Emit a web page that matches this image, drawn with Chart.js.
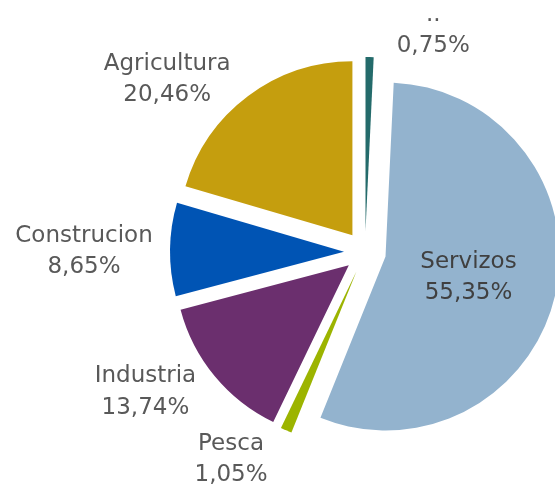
<!DOCTYPE html>
<html>
<head>
<meta charset="utf-8">
<script src="https://cdn.jsdelivr.net/npm/chart.js@4.4.1/dist/chart.umd.min.js"></script>
<style>
  html, body { margin: 0; padding: 0; background: #ffffff; overflow: hidden; }
  #wrap { width: 555px; height: 485px; }
</style>
</head>
<body>
<div id="wrap"><canvas id="c" width="555" height="485"></canvas></div>
<script>
// ---- data ----
const categories = ['..', 'Servizos', 'Pesca', 'Industria', 'Construcion', 'Agricultura'];
const shares = [0.75, 55.35, 1.05, 13.74, 8.65, 20.46];
const valueLabels = ['0,75%', '55,35%', '1,05%', '13,74%', '8,65%', '20,46%'];
const sliceColors = ['#246b6b', '#93b3ce', '#9cb400', '#6b2f6e', '#0054b4', '#c59e0e'];

// label placement: angle shift from slice mid (deg) and distance from pie centre (px)
const labelAngleShift = [15.6, 0.2, 9.3, 7.5, -0.2, -11.7];
const labelDistance = [234, 106, 245, 259, 281, 264];
const labelColors = ['#595959', '#404040', '#595959', '#595959', '#595959', '#595959'];

const EXPLODE = 21;

const explodePlugin = {
  id: 'explode',
  beforeDatasetDraw(chart, args) {
    const ctx = chart.ctx;
    args.meta.data.forEach(arc => {
      const mid = (arc.startAngle + arc.endAngle) / 2;
      ctx.save();
      ctx.translate(Math.cos(mid) * EXPLODE, Math.sin(mid) * EXPLODE);
      arc.draw(ctx);
      ctx.restore();
    });
    return false;
  }
};

const labelPlugin = {
  id: 'sliceLabels',
  afterDatasetsDraw(chart) {
    const ctx = chart.ctx;
    const meta = chart.getDatasetMeta(0);
    const fontSize = 23, lineH = 31.5, capH = fontSize * 0.73;
    ctx.save();
    ctx.font = fontSize + 'px "DejaVu Sans", Verdana, sans-serif';
    ctx.textAlign = 'center';
    ctx.textBaseline = 'alphabetic';
    meta.data.forEach((arc, i) => {
      const mid = (arc.startAngle + arc.endAngle) / 2 + labelAngleShift[i] * Math.PI / 180;
      const x = arc.x + Math.cos(mid) * labelDistance[i];
      const y = arc.y + Math.sin(mid) * labelDistance[i];
      ctx.fillStyle = labelColors[i];
      ctx.fillText(categories[i], x, y - lineH / 2 + capH / 2);
      ctx.fillText(valueLabels[i], x, y + lineH / 2 + capH / 2);
    });
    ctx.restore();
  }
};

new Chart(document.getElementById('c'), {
  type: 'pie',
  data: {
    labels: categories,
    datasets: [{
      data: shares,
      backgroundColor: sliceColors,
      borderWidth: 0,
      radius: 174,
      clip: false
    }]
  },
  options: {
    responsive: false,
    animation: false,
    devicePixelRatio: 1,
    layout: { padding: { left: 175, right: 0, top: 19, bottom: 0 } },
    plugins: {
      legend: { display: false },
      tooltip: { enabled: false }
    }
  },
  plugins: [explodePlugin, labelPlugin]
});
</script>
</body>
</html>
